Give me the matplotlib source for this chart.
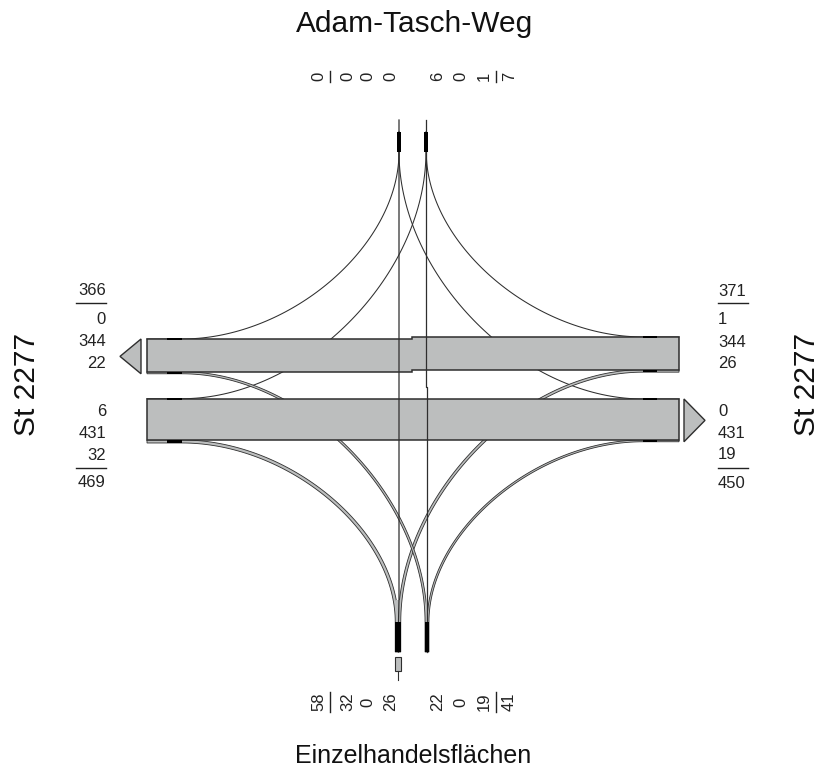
import numpy as np
import matplotlib
matplotlib.use('Agg')
import matplotlib.pyplot as plt
from matplotlib.patches import Polygon, Rectangle

# TRAFFIC VOLUMES (veh)

from_left = [6, 431, 32]      # to top, right, bottom
from_right = [1, 344, 26]     # to top, left, bottom
from_top = [0, 0, 0]          # to left, bottom, right
from_bottom = [22, 0, 19]     # to left, top, right

arm_top = 'Adam-Tasch-Weg'
arm_bottom = 'Einzelhandelsflächen'
arm_side = 'St 2277'

# label blocks per arm
left_out = [from_top[0], from_right[1], from_bottom[0]]
left_in = from_left
right_in = from_right
right_out = [from_top[2], from_left[1], from_bottom[2]]
top_in = from_top
top_out = [from_left[0], from_bottom[1], from_right[0]]
bottom_out = [from_left[2], from_top[1], from_right[2]]
bottom_in = from_bottom

# LAYOUT (pixels)

S = 0.095                 # px per vehicle
GREY = '#bcbebe'
DARK = '#2e2e2e'
FONT = 'Liberation Sans'

XL, XR = 147, 679         # band ends
XL_T, XR_T = 182, 643     # where turn curves leave the band edge
UP_L, UP_R = 339, 337     # upper band top edge (left / right part)
LOW = 399                 # lower band top edge
XT_IN, XT_OUT = 399, 426  # top arm
XB_OUT, XB_IN = 398, 427  # bottom arm
YT, YB = 152, 622         # curve ends at the arms

fig = plt.figure(figsize=(8.24, 7.80), dpi=100)
ax = fig.add_axes([0, 0, 1, 1])
ax.set_xlim(0, 824)
ax.set_ylim(780, 0)
ax.axis('off')


def bezier(p0, p3, k=0.5, n=80):
    # p0 at an arm (vertical tangent), p3 at a band (horizontal tangent)
    p0 = np.array(p0, float)
    p3 = np.array(p3, float)
    p1 = np.array([p0[0], p0[1] + k * (p3[1] - p0[1])])
    p2 = np.array([p3[0] + k * (p0[0] - p3[0]), p3[1]])
    t = np.linspace(0, 1, n)[:, None]
    return (1 - t) ** 3 * p0 + 3 * (1 - t) ** 2 * t * p1 + 3 * (1 - t) * t ** 2 * p2 + t ** 3 * p3


def flow(arm_x, arm_y, arm_end, band_x, band_y, band_end, vol):
    pts = np.vstack([[arm_x, arm_end], bezier((arm_x, arm_y), (band_x, band_y)), [band_end, band_y]])
    w = vol * S
    if w < 1.2:
        ax.plot(pts[:, 0], pts[:, 1], color=DARK, lw=0.75, zorder=1)
        return
    d = np.gradient(pts, axis=0)
    d /= np.linalg.norm(d, axis=1)[:, None]
    nrm = np.column_stack([-d[:, 1], d[:, 0]])
    poly = np.vstack([pts + nrm * w / 2, (pts - nrm * w / 2)[::-1]])
    ax.add_patch(Polygon(poly, closed=True, fc=GREY, ec=DARK, lw=0.6, zorder=1))


def band_marker(x0, x1, y, vol):
    h = max(vol * S, 2.0)
    ax.add_patch(Rectangle((x0, y - h / 2), x1 - x0, h, fc='black', ec='none', zorder=3))


# stacking at the arms
def stack(xc, vols):
    tot = sum(vols) * S
    x = xc - tot / 2
    out = []
    for v in vols:
        out.append(x + v * S / 2)
        x += v * S
    return out

bo = stack(XB_OUT, bottom_out)    # from left, top, right
bi = stack(XB_IN, bottom_in)      # to left, top, right
to = stack(XT_OUT, top_out)       # from left, bottom, right

# band edge positions of the turning flows
y_l_top = UP_L - from_top[0] * S / 2
y_l_bot = UP_L + from_right[1] * S + from_bottom[0] * S / 2
y_r_top = UP_R - from_right[0] * S / 2
y_r_bot = UP_R + from_right[1] * S + from_right[2] * S / 2
y_ll_top = LOW - from_left[0] * S / 2
y_ll_bot = LOW + from_left[1] * S + from_left[2] * S / 2
y_lr_top = LOW - from_top[2] * S / 2
y_lr_bot = LOW + from_left[1] * S + from_bottom[2] * S / 2

# TURNING FLOWS
flow(XT_IN, YT, 132, XL_T, y_l_top, XL, from_top[0])        # top -> left
flow(XT_IN, YT, 132, XR_T, y_lr_top, XR, from_top[2])       # top -> right
flow(to[0], YT, 132, XL_T, y_ll_top, XL, from_left[0])      # left -> top
flow(to[2], YT, 132, XR_T, y_r_top, XR, from_right[0])      # right -> top
flow(bo[0], YB, 652, XL_T, y_ll_bot, XL, from_left[2])      # left -> bottom
flow(bo[2], YB, 652, XR_T, y_r_bot, XR, from_right[2])      # right -> bottom
flow(bi[0], YB, 652, XL_T, y_l_bot, XL, from_bottom[0])     # bottom -> left
flow(bi[2], YB, 652, XR_T, y_lr_bot, XR, from_bottom[2])    # bottom -> right

# STRAIGHT BANDS
w_up = from_right[1] * S
xm = 412
up = [(XL, UP_L), (xm, UP_L), (xm, UP_R), (XR, UP_R), (XR, UP_R + w_up),
      (xm, UP_R + w_up), (xm, UP_L + w_up), (XL, UP_L + w_up)]
ax.add_patch(Polygon(up, closed=True, fc=GREY, ec=DARK, lw=1.1, zorder=2))
w_low = from_left[1] * S
ax.add_patch(Rectangle((XL, LOW), XR - XL, w_low, fc=GREY, ec=DARK, lw=1.1, zorder=2))

# arrows on the outgoing sides
h_l = sum(left_out) * S
ax.add_patch(Polygon([(141, UP_L), (141, UP_L + h_l), (120, UP_L + h_l / 2)],
                     closed=True, fc=GREY, ec=DARK, lw=1.0, zorder=2))
h_r = sum(right_out) * S
ax.add_patch(Polygon([(684, LOW), (684, LOW + h_r), (705, LOW + h_r / 2)],
                     closed=True, fc=GREY, ec=DARK, lw=1.0, zorder=2))
w_b = sum(bottom_out) * S
ax.add_patch(Rectangle((XB_OUT - w_b / 2, 657), w_b, 14, fc=GREY, ec=DARK, lw=0.8, zorder=2))
ax.plot([XB_OUT, XB_OUT], [671, 680], color=DARK, lw=0.8, zorder=2)

# markers at the band ends
band_marker(167, XL_T, y_l_top, from_top[0])
band_marker(167, XL_T, y_l_bot, from_bottom[0])
band_marker(167, XL_T, y_ll_top, from_left[0])
band_marker(167, XL_T, y_ll_bot, from_left[2])
band_marker(XR_T, 657, y_r_top, from_right[0])
band_marker(XR_T, 657, y_r_bot, from_right[2])
band_marker(XR_T, 657, y_lr_top, from_top[2])
band_marker(XR_T, 657, y_lr_bot, from_bottom[2])

# straight through flows top <-> bottom
ax.plot([XT_IN, XT_IN, XB_OUT + 0.5, XB_OUT + 0.5], [120, 600, 622, 652], color=DARK, lw=0.9, zorder=4)
ax.plot([XB_IN, XB_IN, XT_OUT, XT_OUT], [652, 387, 387, 120], color=DARK, lw=0.9, zorder=4)

# markers at the arms
for xc in [XT_IN, XT_OUT]:
    ax.add_patch(Rectangle((xc - 1.6, 132), 3.2, 20, fc='black', ec='none', zorder=4))
for xc, vols in [(XB_OUT, bottom_out), (XB_IN, bottom_in)]:
    w = max(sum(vols) * S, 3.2)
    ax.add_patch(Rectangle((xc - w / 2, 622), w, 30, fc='black', ec='none', zorder=4))
    ax.add_patch(Rectangle((xc - w / 2 + 1.0, 600), w - 2.0, 30, fc=GREY, ec='none', zorder=3.5))

# NUMBER LABELS
def side_block(x, ha, total, comps, y_tot, y_line, y_comps):
    ax.text(x, y_tot + 6, str(total), ha=ha, va='baseline', fontsize=12, family=FONT, color='#222')
    for v, y in zip(comps, y_comps):
        ax.text(x, y + 6, str(v), ha=ha, va='baseline', fontsize=12, family=FONT, color='#222')
    x0, x1 = (x - 30, x) if ha == 'right' else (x, x + 30)
    ax.plot([x0, x1], [y_line, y_line], color='#222', lw=1.0)

side_block(106, 'right', sum(left_out), left_out, 289, 303, [318, 340, 362])
side_block(106, 'right', sum(left_in), left_in, 481, 468, [410, 432, 454])
side_block(718, 'left', sum(right_in), right_in, 290, 303, [318, 341, 362])
side_block(718, 'left', sum(right_out), right_out, 482, 468, [410, 432, 453])


def rot_block(xs, bar_x, cy, values, total_first):
    total = sum(values)
    items = [total] + list(values) if total_first else list(values) + [total]
    for v, x in zip(items, xs):
        ax.text(x + 6, cy, str(v), rotation=90, rotation_mode='anchor', ha='center',
                va='baseline', fontsize=12, family=FONT, color='#222')
    h = len(str(total)) * 9.3 + 1
    ax.plot([bar_x, bar_x], [cy - h / 2, cy + h / 2], color='#222', lw=1.0)

xs_left = [317, 346, 366, 389]
xs_right = [436, 459, 483, 508]
rot_block(xs_left, 330, 76.5, top_in, True)
rot_block(xs_right, 496, 76.5, top_out, False)
rot_block(xs_left, 330, 702, bottom_out, True)
rot_block(xs_right, 496, 702, bottom_in, False)

# ARM NAMES
ax.text(415, 32, arm_top, ha='center', va='baseline', fontsize=21.5, family=FONT, color='#111')
ax.text(413, 763, arm_bottom, ha='center', va='baseline', fontsize=18, family=FONT, color='#111')
ax.text(35, 384.5, arm_side, rotation=90, rotation_mode='anchor', ha='center', va='baseline',
        fontsize=21.5, family=FONT, color='#111')
ax.text(815, 384.5, arm_side, rotation=90, rotation_mode='anchor', ha='center', va='baseline',
        fontsize=21.5, family=FONT, color='#111')

fig.savefig('out.png', dpi=100)
